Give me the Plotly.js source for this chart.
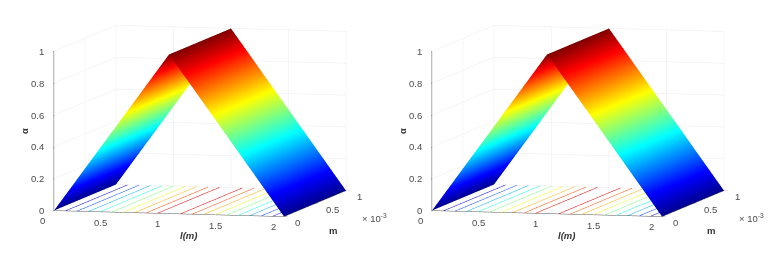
<!DOCTYPE html>
<html><head><meta charset="utf-8">
<script src="https://cdn.plot.ly/plotly-3.0.1.min.js"></script>
<style>html,body{margin:0;padding:0;background:#fff}#c{width:777px;height:255px}</style></head>
<body><div id="c"></div>
<script>
const lengths = [0,0.05,0.1,0.15,0.2,0.25,0.3,0.35,0.4,0.45,0.5,0.55,0.6,0.65,0.7,0.75,0.8,0.85,0.9,0.95,1,1.05,1.1,1.15,1.2,1.25,1.3,1.35,1.4,1.45,1.5,1.55,1.6,1.65,1.7,1.75,1.8,1.85,1.9,1.95,2];
const widths = [0, 0.001];
const alphaRow = [0,0.05,0.1,0.15,0.2,0.25,0.3,0.35,0.4,0.45,0.5,0.55,0.6,0.65,0.7,0.75,0.8,0.85,0.9,0.95,1,0.95,0.9,0.85,0.8,0.75,0.7,0.65,0.6,0.55,0.5,0.45,0.4,0.35,0.3,0.25,0.2,0.15,0.1,0.05,0];
const alphaRows = [alphaRow, alphaRow];
const lTicks = [0, 0.5, 1, 1.5, 2];
const mTicks = [0, 0.0005, 0.001];
const mTickText = ['0', '0.5', '1'];
const aTicks = [0, 0.2, 0.4, 0.6, 0.8, 1];
const aTickText = ['0', '0.2', '0.4', '0.6', '0.8', '1'];
const lTickText = ['0', '0.5', '1', '1.5', '2'];
const jet = [[0,'#00008F'],[0.125,'#0000FF'],[0.375,'#00FFFF'],[0.625,'#FFFF00'],[0.875,'#FF0000'],[1,'#800000']];
const fontFamily = 'Liberation Sans';
const tickFont = {family:fontFamily, size:9.5, color:'#4a4a4a'};
const titleFont = {family:fontFamily, size:9.5, color:'#333'};
function surf(scene){return {type:'surface',scene,x:lengths,y:widths,z:alphaRows,colorscale:jet,cmin:0,cmax:1,showscale:false,hoverinfo:'skip',
  lighting:{ambient:1,diffuse:0,specular:0,roughness:1,fresnel:0},
  contours:{x:{highlight:false},y:{highlight:false},z:{show:true,highlight:false,start:0.1,end:0.95,size:0.1,usecolormap:true,width:1,project:{z:true}}}};}
function ax(vals,range){return {range,tickmode:'array',tickvals:vals,showticklabels:false,showbackground:false,showspikes:false,zeroline:false,
  gridcolor:'#ebebeb',gridwidth:1,showline:true,linecolor:'#555',linewidth:1,ticks:'outside',ticklen:4,tickcolor:'#555',title:{text:''}};}
function label(x,y,z,text,xshift,yshift,font,extra){return Object.assign({x,y,z,text,xshift,yshift,showarrow:false,font,xanchor:'center',yanchor:'middle'},extra||{});}
const notes=[];
lTicks.forEach((v,i)=>notes.push(label(v,0,0,lTickText[i],-11,-10,tickFont)));
mTicks.forEach((v,i)=>notes.push(label(2,v,0,mTickText[i],9,-6,tickFont,{xanchor:'left'})));
aTicks.forEach((v,i)=>notes.push(label(0,0,v,aTickText[i],-8,0,tickFont,{xanchor:'right'})));
notes.push(label(1,0,0,'<b><i>l(m)</i></b>',20,-22,titleFont));
notes.push(label(2,0.0005,0,'<b>m</b>',18,-27,titleFont));
notes.push(label(0,0,0.5,'<b>α</b>',-29,0,titleFont,{textangle:-90}));
const eyeDir=[0.241,-0.965,0.1046], D=6, S=1.96;
function scene(dom){return {domain:{x:[dom[0]/777,dom[1]/777],y:[13/255,1]},
  aspectmode:'manual',aspectratio:{x:S,y:1.08*S,z:0.675*S},
  camera:{projection:{type:'orthographic'},up:{x:0,y:0,z:1},center:{x:0,y:0,z:0},eye:{x:eyeDir[0]*D,y:eyeDir[1]*D,z:eyeDir[2]*D}},
  xaxis:ax(lTicks,[0,2]),yaxis:ax(mTicks,[0,0.001]),zaxis:ax(aTicks,[0,1]),annotations:notes};}
const layout={width:777,height:255,margin:{l:0,r:0,t:0,b:0},paper_bgcolor:'#fff',showlegend:false,
  scene:scene([20,380]),scene2:scene([398,758]),
  annotations:[
   {xref:'paper',yref:'paper',x:374/777,y:1-218/255,xanchor:'center',yanchor:'middle',text:'× 10<sup>-3</sup>',showarrow:false,font:tickFont},
   {xref:'paper',yref:'paper',x:751/777,y:1-218/255,xanchor:'center',yanchor:'middle',text:'× 10<sup>-3</sup>',showarrow:false,font:tickFont}]};
Plotly.newPlot('c',[surf('scene'),surf('scene2')],layout,{displayModeBar:false});
</script></body></html>
